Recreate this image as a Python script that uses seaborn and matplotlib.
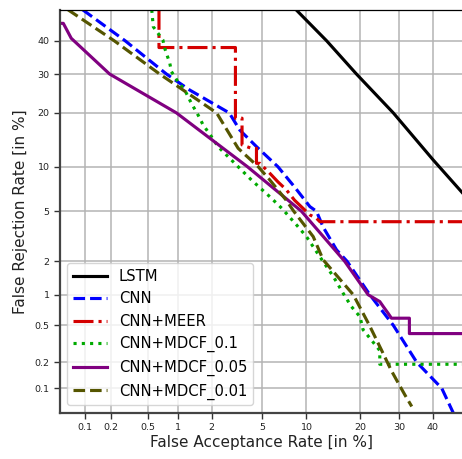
import math
import numpy as np
import pandas as pd
import matplotlib
matplotlib.use("Agg")
import matplotlib.pyplot as plt
import matplotlib.ticker as mticker
import seaborn as sns

# ---------------- data (percent) ----------------
lstm_far = [8.6, 13.2, 19.1, 28.3, 40.2, 50.0]
lstm_frr = [50.0, 40.0, 30.0, 20.0, 11.0, 6.6]

cnn_far = [0.095, 0.29, 0.77, 1.28, 2.8, 3.4, 4.56, 6.5, 8.4, 10.5, 11.5, 12.6, 15.0,
           17.1, 22.2, 28.3, 35.1, 42.9, 46.6]
cnn_frr = [50, 40, 30, 25.6, 20, 16.3, 13.2, 10, 7.4, 5.4, 5, 3.8, 2.5,
           2, 1, 0.5, 0.2, 0.1, 0.05]

meer_far = [0.65, 0.65, 3.14, 3.14, 3.54, 3.54, 4.18, 4.56, 4.56, 4.83, 5.4, 5.7,
            6.5, 7.4, 8.4, 9.5, 10.5, 11.5, 12.05, 50]
meer_frr = [50, 37.9, 37.9, 18.8, 18.8, 13.5, 12.9, 12.9, 10.5, 10.5, 9.55, 9.1,
            8.0, 7.1, 6.0, 5.26, 4.7, 4.44, 4.18, 4.18]

mdcf01_far = [0.55, 0.57, 0.71, 0.74, 0.83, 0.86, 0.99, 1.15, 1.32, 1.52, 1.68, 1.99,
              2.26, 3.1, 4.2, 5.7, 6.9, 8.65, 10.0, 12.05, 14.4, 16.3, 18.0, 19.9,
              20.6, 22.6, 24.7, 24.7, 50]
mdcf01_frr = [50, 44.5, 40.3, 37.7, 33.1, 30.7, 27.9, 25.6, 22.3, 19.5, 17.4, 15.0,
              13.2, 10.5, 8.2, 6.35, 5.26, 3.95, 3.2, 2.19, 1.47, 1.03, 0.77, 0.61,
              0.45, 0.35, 0.27, 0.19, 0.19]

mdcf005_far = [0.05, 0.055, 0.069, 0.195, 0.96, 3.9, 9.3, 16.6, 21.8, 24.7, 25.6,
               26.9, 27.8, 32.9, 32.9, 50]
mdcf005_frr = [45.6, 45.6, 40.8, 30, 20, 10, 5, 2, 1, 0.86, 0.77, 0.66, 0.59, 0.59,
               0.41, 0.41]

mdcf001_far = [0.063, 0.22, 0.66, 2.2, 3.3, 4.7, 5.7, 7.4, 8.3, 11.0, 12.6, 18.4,
               22.1, 25.2, 27.8, 29.7, 31.6, 33.6]
mdcf001_frr = [50, 40, 30, 20, 12.9, 10, 8.24, 6.0, 5, 3.2, 2.06, 1,
               0.5, 0.27, 0.16, 0.115, 0.083, 0.06]

tick_values = [0.1, 0.2, 0.5, 1, 2, 5, 10, 20, 30, 40]
tick_labels = ["0.1", "0.2", "0.5", "1", "2", "5", "10", "20", "30", "40"]

series_names = ["LSTM", "CNN", "CNN+MEER", "CNN+MDCF_0.1", "CNN+MDCF_0.05", "CNN+MDCF_0.01"]

# ---------------- probit (normal deviate) scale ----------------
_a = [-3.969683028665376e+01, 2.209460984245205e+02, -2.759285104469687e+02,
      1.383577518672690e+02, -3.066479806614716e+01, 2.506628277459239e+00]
_b = [-5.447609879822406e+01, 1.615858368580409e+02, -1.556989798598866e+02,
      6.680131188771972e+01, -1.328068155288572e+01]
_c = [-7.784894002430293e-03, -3.223964580411365e-01, -2.400758277161838e+00,
      -2.549732539343734e+00, 4.374664141464968e+00, 2.938163982698783e+00]
_d = [7.784695709041462e-03, 3.224671290700398e-01, 2.445134137142996e+00,
      3.754408661907416e+00]


def _ppf(p):
    p = np.clip(np.asarray(p, dtype=float), 1e-12, 1 - 1e-12)
    plow = 0.02425
    out = np.empty_like(p)
    lo = p < plow
    hi = p > 1 - plow
    mid = ~(lo | hi)
    q = np.sqrt(-2 * np.log(p[lo]))
    out[lo] = (((((_c[0]*q+_c[1])*q+_c[2])*q+_c[3])*q+_c[4])*q+_c[5]) / \
        ((((_d[0]*q+_d[1])*q+_d[2])*q+_d[3])*q+1)
    q = np.sqrt(-2 * np.log(1 - p[hi]))
    out[hi] = -(((((_c[0]*q+_c[1])*q+_c[2])*q+_c[3])*q+_c[4])*q+_c[5]) / \
        ((((_d[0]*q+_d[1])*q+_d[2])*q+_d[3])*q+1)
    q = p[mid] - 0.5
    r = q * q
    out[mid] = (((((_a[0]*r+_a[1])*r+_a[2])*r+_a[3])*r+_a[4])*r+_a[5])*q / \
        (((((_b[0]*r+_b[1])*r+_b[2])*r+_b[3])*r+_b[4])*r+1)
    return out


_erf = np.vectorize(math.erf)


def fwd(v):
    return _ppf(np.asarray(v, dtype=float) / 100.0)


def inv(z):
    z = np.asarray(z, dtype=float)
    return 100.0 * 0.5 * (1.0 + _erf(z / math.sqrt(2.0)))


# ---------------- figure ----------------
plt.rcParams["font.family"] = ["DejaVu Sans"]
fig = plt.figure(figsize=(4.62, 4.59), dpi=100)
ax = fig.add_axes([60.0 / 462, 1 - 412.8 / 459, (463.7 - 60.0) / 462, (412.8 - 9.8) / 459])

ax.set_xscale("function", functions=(fwd, inv))
ax.set_yscale("function", functions=(fwd, inv))

lw = 2.25
styles = [
    (lstm_far, lstm_frr, "black", "-"),
    (cnn_far, cnn_frr, "#0000ff", "--"),
    (meer_far, meer_frr, "#d40000", "-."),
    (mdcf01_far, mdcf01_frr, "#00aa00", ":"),
    (mdcf005_far, mdcf005_frr, "#800080", "-"),
    (mdcf001_far, mdcf001_frr, "#555500", "--"),
]
for name, (fx, fy, col, ls) in zip(series_names, styles):
    df = pd.DataFrame({"far": fx, "frr": fy})
    sns.lineplot(data=df, x="far", y="frr", sort=False, estimator=None, ax=ax,
                 color=col, linestyle=ls, linewidth=lw, label=name)

ax.set_xlim(0.05, 50)
ax.set_ylim(0.05, 50)
ax.xaxis.set_major_locator(mticker.FixedLocator(tick_values))
ax.yaxis.set_major_locator(mticker.FixedLocator(tick_values))
ax.xaxis.set_major_formatter(mticker.FixedFormatter(tick_labels))
ax.yaxis.set_major_formatter(mticker.FixedFormatter(tick_labels))
ax.xaxis.set_minor_locator(mticker.NullLocator())
ax.yaxis.set_minor_locator(mticker.NullLocator())

ax.grid(True, color="#b4b4b4", linewidth=1.1)
ax.set_axisbelow(True)
ax.tick_params(axis="both", labelsize=6.8, length=4, width=1.0, colors="#333333",
               labelcolor="#222222")

for s in ["left", "bottom"]:
    ax.spines[s].set_color("#444444")
    ax.spines[s].set_linewidth(1.6)
ax.spines["top"].set_color("black")
ax.spines["top"].set_linewidth(0.9)
ax.spines["right"].set_visible(False)

ax.set_xlabel("False Acceptance Rate [in %]", fontsize=11, color="#222222", labelpad=2)
ax.set_ylabel("False Rejection Rate [in %]", fontsize=11, color="#222222", labelpad=5)

ax.legend(loc="lower left", fontsize=10.6, handlelength=2.3, framealpha=0.8)

fig.savefig("out.png", dpi=100)
